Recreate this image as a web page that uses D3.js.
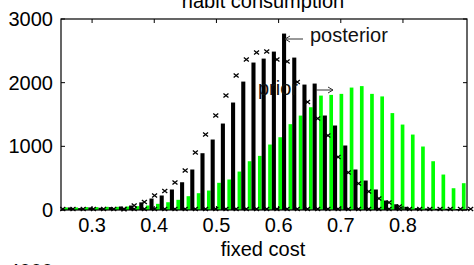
<!DOCTYPE html>
<html>
<head>
<meta charset="utf-8">
<script src="https://cdn.jsdelivr.net/npm/d3@7"></script>
<style>
  body { margin: 0; background: #fff; }
  svg { display: block; font-family: "Liberation Sans", Arial, sans-serif; }
</style>
</head>
<body>
<svg id="chart"></svg>
<script>
// ── Data ──────────────────────────────────────────────────────────────────
// histogram bin edges (fixed cost)
const binEdges = [
  0.2529, 0.2693, 0.2857, 0.3021, 0.3185, 0.3349, 0.3513, 0.3677, 0.3841, 0.4005,
  0.4169, 0.4333, 0.4497, 0.4661, 0.4825, 0.4989, 0.5153, 0.5317, 0.5481, 0.5645,
  0.5809, 0.5973, 0.6137, 0.6301, 0.6465, 0.6629, 0.6793, 0.6957, 0.7121, 0.7285,
  0.7449, 0.7613, 0.7777, 0.7941, 0.8105, 0.8269, 0.8433, 0.8597, 0.8761, 0.8925,
  0.9089
];

// posterior counts per bin (black)
const posterior = [
  40, 30, 40, 35, 45, 55, 70, 120, 180, 228,
  322, 436, 636, 892, 1107, 1358, 1688, 2017, 2316, 2378,
  2488, 2771, 2394, 1970, 1986, 1484, 1327, 1013, 636, 463,
  322, 149, 90, 50, 30, 25, 20, 20, 15, 15
];

// prior counts per bin (green)
const prior = [
  40, 40, 45, 45, 50, 50, 55, 60, 70, 97,
  122, 160, 217, 264, 306, 427, 479, 604, 766, 850,
  1028, 1143, 1348, 1483, 1614, 1797, 1808, 1824, 1923, 1946,
  1824, 1784, 1522, 1342, 1185, 997, 766, 557, 342, 421
];

// 'x' markers at the bin edges
const edgeMarks = [
  0, 0, 0, 0, 0, 0, 10, 70, 125, 228,
  298, 432, 620, 903, 1185, 1484, 1797, 2111, 2363, 2473,
  2488, 2363, 2331, 2009, 1695, 1436, 1170, 832, 589, 416,
  290, 180, 118, 55, 0, 0, 0, 0, 0, 0,
  0
];

const xTicks = [0.3, 0.4, 0.5, 0.6, 0.7, 0.8];
const yTicks = [0, 1000, 2000, 3000];

// ── Setup ─────────────────────────────────────────────────────────────────
const W = 474, H = 265;
const plot = { left: 61, right: 467, top: 19, bottom: 210 };

const svg = d3.select("#chart")
    .attr("width", W)
    .attr("height", H);

const x = d3.scaleLinear().domain([0.25, 0.903]).range([plot.left, plot.right]);
const y = d3.scaleLinear().domain([0, 3000]).range([plot.bottom, plot.top]);

const centers = d3.pairs(binEdges, (a, b) => (a + b) / 2);
const bw = x(binEdges[1]) - x(binEdges[0]);

const bins = centers.map((c, i) => ({ c, post: posterior[i], prior: prior[i] }));

// ── Bars ──────────────────────────────────────────────────────────────────
svg.append("g").selectAll("rect")
    .data(bins)
    .join("rect")
    .attr("x", d => x(d.c) - 0.36 * bw)
    .attr("width", 0.36 * bw)
    .attr("y", d => y(d.prior))
    .attr("height", d => y(0) - y(d.prior))
    .attr("fill", "#00ff00");

svg.append("g").selectAll("rect")
    .data(bins)
    .join("rect")
    .attr("x", d => x(d.c))
    .attr("width", 0.4 * bw)
    .attr("y", d => y(d.post))
    .attr("height", d => y(0) - y(d.post))
    .attr("fill", "#000");

// ── Markers ───────────────────────────────────────────────────────────────
const xMark = "M-2.5,-2L2.5,2M-2.5,2L2.5,-2";
const marks = binEdges.map((e, i) => ({ e, v: edgeMarks[i] }));

svg.append("g").selectAll("path")
    .data(marks)
    .join("path")
    .attr("d", xMark)
    .attr("transform", d => `translate(${x(d.e)},${y(0) - 1})`)
    .attr("stroke", "#000")
    .attr("stroke-width", 1.3)
    .attr("fill", "none");

svg.append("g").selectAll("path")
    .data(marks.filter(d => d.v > 0))
    .join("path")
    .attr("d", xMark)
    .attr("transform", d => `translate(${x(d.e)},${y(d.v)})`)
    .attr("stroke", "#000")
    .attr("stroke-width", 1.3)
    .attr("fill", "none");

// ── Axes box + inward ticks ───────────────────────────────────────────────
svg.append("rect")
    .attr("x", plot.left).attr("y", plot.top)
    .attr("width", plot.right - plot.left)
    .attr("height", plot.bottom - plot.top)
    .attr("fill", "none")
    .attr("stroke", "#000")
    .attr("stroke-width", 1.2);

const tk = 4;
const ticks = svg.append("g").attr("stroke", "#000").attr("stroke-width", 1);
xTicks.forEach(t => {
    ticks.append("line").attr("x1", x(t)).attr("x2", x(t)).attr("y1", plot.top).attr("y2", plot.top + tk);
    ticks.append("line").attr("x1", x(t)).attr("x2", x(t)).attr("y1", plot.bottom).attr("y2", plot.bottom - tk);
});
yTicks.forEach(t => {
    ticks.append("line").attr("x1", plot.left).attr("x2", plot.left + tk).attr("y1", y(t)).attr("y2", y(t));
    ticks.append("line").attr("x1", plot.right).attr("x2", plot.right - tk).attr("y1", y(t)).attr("y2", y(t));
});

// ── Tick labels ───────────────────────────────────────────────────────────
svg.append("g").selectAll("text")
    .data(xTicks)
    .join("text")
    .attr("x", d => x(d))
    .attr("y", 232)
    .attr("text-anchor", "middle")
    .attr("font-size", 20)
    .attr("fill", "#000")
    .text(d => d3.format(".1f")(d));

svg.append("g").selectAll("text")
    .data(yTicks)
    .join("text")
    .attr("x", 53)
    .attr("y", d => y(d) + 7)
    .attr("text-anchor", "end")
    .attr("font-size", 20)
    .attr("fill", "#000")
    .text(d => d);

// next panel's top label peeking in at the bottom
svg.append("text")
    .attr("x", 53).attr("y", 278)
    .attr("text-anchor", "end")
    .attr("font-size", 20)
    .attr("fill", "#000")
    .text("4000");

// ── Title / axis label ────────────────────────────────────────────────────
svg.append("text")
    .attr("x", 263).attr("y", 8)
    .attr("text-anchor", "middle")
    .attr("font-size", 20)
    .attr("fill", "#000")
    .text("habit consumption");

svg.append("text")
    .attr("x", 263).attr("y", 256)
    .attr("text-anchor", "middle")
    .attr("font-size", 20)
    .attr("fill", "#000")
    .text("fixed cost");

// ── Annotations ───────────────────────────────────────────────────────────
const ann = svg.append("g").attr("stroke", "#333").attr("stroke-width", 1).attr("fill", "none");
// posterior arrow (points left)
ann.append("path").attr("d", "M285,39H303M285,39l5,-3M285,39l5,3");
svg.append("text")
    .attr("x", 310).attr("y", 42)
    .attr("font-size", 20)
    .attr("fill", "#111")
    .text("posterior");

// prior arrow (points right)
ann.append("path").attr("d", "M316,90H333M333,90l-5,-3M333,90l-5,3");
svg.append("text")
    .attr("x", 258).attr("y", 95)
    .attr("font-size", 20)
    .attr("fill", "#111")
    .text("prior");
</script>
</body>
</html>
